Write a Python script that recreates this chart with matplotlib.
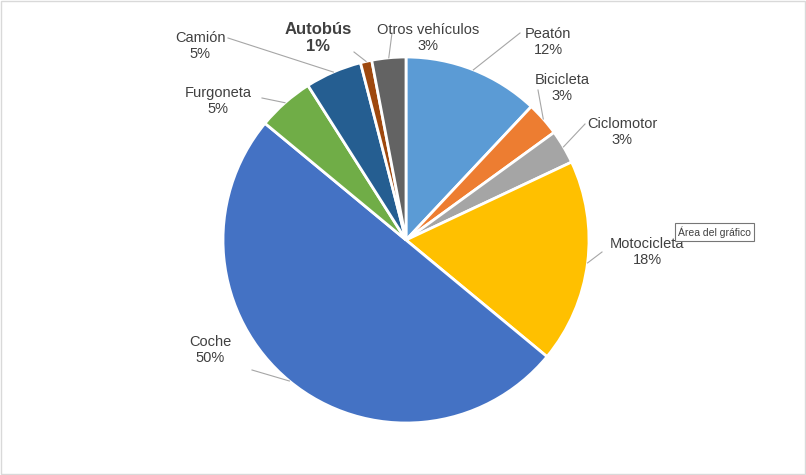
import numpy as np
import matplotlib
matplotlib.use("Agg")
from matplotlib import pyplot as plt

labels = ['Peatón', 'Bicicleta', 'Ciclomotor', 'Motocicleta', 'Coche',
          'Furgoneta', 'Camión', 'Autobús', 'Otros vehículos']
values = [12, 3, 3, 18, 50, 5, 5, 1, 3]
colors = ['#5B9BD5', '#ED7D31', '#A5A5A5', '#FFC000', '#4472C4',
          '#70AD47', '#255E91', '#9E480E', '#636363']
# label text positions in pixels (x, y from top)
label_pos = [(548, 42), (562, 88), (622, 132), (647, 252), (210, 350),
             (218, 101), (200, 46), (318, 38), (428, 38)]
line_end = [(520, 33), (538, 90), (585, 124), (602, 252), (252, 370),
            (262, 98), (228, 38), (354, 52), (392, 33)]

W, H = 806, 475
plt.rcParams['font.family'] = ['Liberation Sans', 'DejaVu Sans']
fig = plt.figure(figsize=(W / 100, H / 100), dpi=100)
ax = fig.add_axes([0, 0, 1, 1])
ax.set_xlim(0, W)
ax.set_ylim(0, H)
ax.axis('off')

cx, cy, r = 406, H - 240, 183
wedges, _ = ax.pie(values, colors=colors, startangle=90, counterclock=False,
                   radius=r, center=(cx, cy), frame=True,
                   wedgeprops=dict(edgecolor='white', linewidth=2))
ax.set_xlim(0, W)
ax.set_ylim(0, H)
ax.set_aspect('equal')
ax.axis('off')

for w, lab, v, (tx, ty), (lx, ly) in zip(wedges, labels, values, label_pos, line_end):
    ang = np.deg2rad((w.theta1 + w.theta2) / 2)
    ex, ey = cx + r * np.cos(ang), cy + r * np.sin(ang)
    ax.plot([ex, lx], [ey, H - ly], color='#A6A6A6', lw=0.8)
    bold = lab == 'Autobús'
    ax.text(tx, H - ty, f'{lab}\n{v}%', ha='center', va='center',
            fontsize=12 if bold else 10.5, color='#404040',
            fontweight='bold' if bold else 'normal', linespacing=1.1)

ax.add_patch(plt.Rectangle((1, 1), W - 2, H - 2, fill=False, edgecolor='#D9D9D9', lw=1))
ax.text(678, H - 232, 'Área del gráfico', fontsize=7.5, color='#404040', va='center',
        bbox=dict(boxstyle='square,pad=0.3', fc='white', ec='#767676', lw=0.8))

fig.savefig('out.png', dpi=100)
